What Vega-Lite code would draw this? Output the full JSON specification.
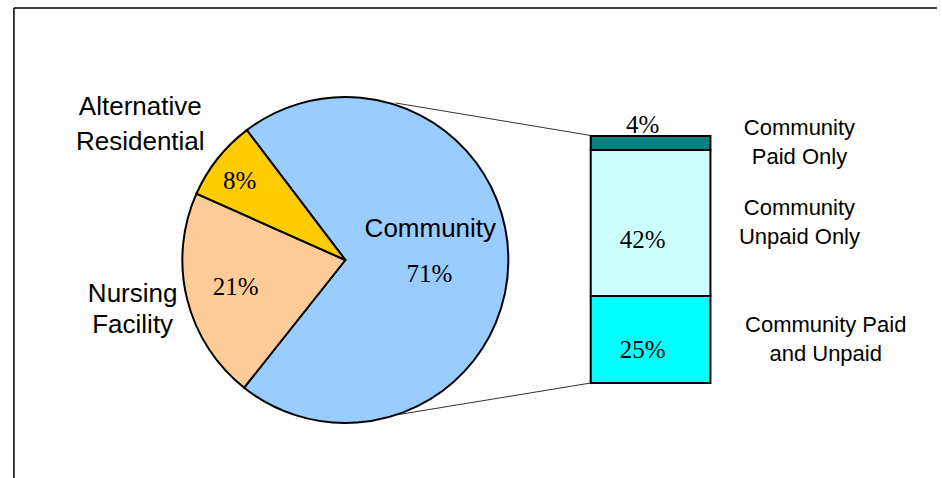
{
  "$schema": "https://vega.github.io/schema/vega-lite/v6.json",
  "width": 942,
  "height": 478,
  "autosize": {"type": "none"},
  "padding": 0,
  "background": "white",
  "config": {"view": {"stroke": null}},
  "datasets": {
    "pie": [
      {"category": "Community", "value": 71, "label": "71%", "name": "Community"},
      {"category": "Nursing Facility", "value": 21, "label": "21%", "name": "Nursing\nFacility"},
      {"category": "Alternative Residential", "value": 8, "label": "8%", "name": "Alternative\nResidential"}
    ],
    "bar": [
      {"segment": "Community Paid and Unpaid", "value": 25, "label": "25%", "rank": 1, "name": "Community Paid\nand Unpaid"},
      {"segment": "Community Unpaid Only", "value": 42, "label": "42%", "rank": 2, "name": "Community\nUnpaid Only"},
      {"segment": "Community Paid Only", "value": 4, "label": "4%", "rank": 3, "name": "Community\nPaid Only"}
    ],
    "frame": [{"part": "frame"}]
  },
  "resolve": {"scale": {"y": "independent"}},
  "layer": [
    {
      "data": {"name": "frame"},
      "mark": {"type": "rule", "color": "black", "strokeWidth": 1.5},
      "encoding": {
        "x": {"datum": 9, "type": "quantitative", "scale": {"domain": [0, 942], "nice": false, "zero": false}, "axis": null},
        "x2": {"datum": 942},
        "y": {"datum": 8, "type": "quantitative", "scale": {"domain": [0, 478], "nice": false, "zero": false, "reverse": true}, "axis": null}
      }
    },
    {
      "data": {"name": "frame"},
      "mark": {"type": "rule", "color": "black", "strokeWidth": 1.5},
      "encoding": {
        "x": {"datum": 9, "type": "quantitative", "scale": {"domain": [0, 942], "nice": false, "zero": false}, "axis": null},
        "y": {"datum": 8, "type": "quantitative", "scale": {"domain": [0, 478], "nice": false, "zero": false, "reverse": true}, "axis": null},
        "y2": {"datum": 478}
      }
    },
    {
      "data": {"name": "frame"},
      "mark": {"type": "rule", "color": "#333333", "strokeWidth": 1},
      "encoding": {
        "x": {"datum": 395, "type": "quantitative", "scale": {"domain": [0, 942], "nice": false, "zero": false}, "axis": null},
        "x2": {"datum": 592},
        "y": {"datum": 103, "type": "quantitative", "scale": {"domain": [0, 478], "nice": false, "zero": false, "reverse": true}, "axis": null},
        "y2": {"datum": 135.5}
      }
    },
    {
      "data": {"name": "frame"},
      "mark": {"type": "rule", "color": "#333333", "strokeWidth": 1},
      "encoding": {
        "x": {"datum": 395, "type": "quantitative", "scale": {"domain": [0, 942], "nice": false, "zero": false}, "axis": null},
        "x2": {"datum": 592},
        "y": {"datum": 415, "type": "quantitative", "scale": {"domain": [0, 478], "nice": false, "zero": false, "reverse": true}, "axis": null},
        "y2": {"datum": 383}
      }
    },
    {
      "data": {"name": "pie"},
      "mark": {"type": "arc", "outerRadius": 163, "stroke": "black", "strokeWidth": 2},
      "encoding": {
        "x": {"datum": 344, "type": "quantitative", "scale": {"domain": [0, 942], "nice": false, "zero": false}, "axis": null},
        "y": {"datum": 260, "type": "quantitative", "scale": {"domain": [0, 478], "nice": false, "zero": false, "reverse": true}, "axis": null},
        "theta": {"field": "value", "type": "quantitative", "stack": true, "scale": {"domain": [0, 100], "range": [-1.1519, 5.1313]}},
        "color": {"field": "category", "type": "nominal", "legend": null,
          "scale": {"domain": ["Community", "Nursing Facility", "Alternative Residential", "Community Paid and Unpaid", "Community Unpaid Only", "Community Paid Only"],
                    "range": ["#99CCFF", "#FFCC99", "#FFCC00", "#00FFFF", "#CCFFFF", "#008080"]}},
        "order": {"field": "category", "sort": "ascending"}
      }
    },
    {
      "data": {"name": "pie"},
      "mark": {"type": "text", "radius": 135, "dy": 5, "font": "Liberation Serif", "fontSize": 25, "color": "black", "baseline": "middle", "align": "center"},
      "encoding": {
        "x": {"datum": 344, "type": "quantitative", "scale": {"domain": [0, 942], "nice": false, "zero": false}, "axis": null},
        "y": {"datum": 260, "type": "quantitative", "scale": {"domain": [0, 478], "nice": false, "zero": false, "reverse": true}, "axis": null},
        "theta": {"field": "value", "type": "quantitative", "stack": true, "scale": {"domain": [0, 100], "range": [-1.1519, 5.1313]}},
        "detail": {"field": "category", "type": "nominal"},
        "order": {"field": "category", "sort": "ascending"},
        "text": {"condition": {"test": "datum.category === 'Alternative Residential'", "field": "label", "type": "nominal"}, "value": ""}
      }
    },
    {
      "data": {"name": "pie"},
      "mark": {"type": "text", "radius": 113, "font": "Liberation Serif", "fontSize": 25, "color": "black", "baseline": "middle", "align": "center"},
      "encoding": {
        "x": {"datum": 344, "type": "quantitative", "scale": {"domain": [0, 942], "nice": false, "zero": false}, "axis": null},
        "y": {"datum": 260, "type": "quantitative", "scale": {"domain": [0, 478], "nice": false, "zero": false, "reverse": true}, "axis": null},
        "theta": {"field": "value", "type": "quantitative", "stack": true, "scale": {"domain": [0, 100], "range": [-1.1519, 5.1313]}},
        "detail": {"field": "category", "type": "nominal"},
        "order": {"field": "category", "sort": "ascending"},
        "text": {"condition": {"test": "datum.category === 'Nursing Facility'", "field": "label", "type": "nominal"}, "value": ""}
      }
    },
    {
      "data": {"name": "pie"},
      "mark": {"type": "text", "radius": 84, "dy": 13, "font": "Liberation Serif", "fontSize": 25, "color": "black", "baseline": "middle", "align": "center"},
      "encoding": {
        "x": {"datum": 344, "type": "quantitative", "scale": {"domain": [0, 942], "nice": false, "zero": false}, "axis": null},
        "y": {"datum": 260, "type": "quantitative", "scale": {"domain": [0, 478], "nice": false, "zero": false, "reverse": true}, "axis": null},
        "theta": {"field": "value", "type": "quantitative", "stack": true, "scale": {"domain": [0, 100], "range": [-1.1519, 5.1313]}},
        "detail": {"field": "category", "type": "nominal"},
        "order": {"field": "category", "sort": "ascending"},
        "text": {"condition": {"test": "datum.category === 'Community'", "field": "label", "type": "nominal"}, "value": ""}
      }
    },
    {
      "data": {"name": "pie"},
      "mark": {"type": "text", "radius": 84, "dx": 1, "dy": -32, "font": "Liberation Sans", "fontSize": 26, "color": "black", "baseline": "middle", "align": "center"},
      "encoding": {
        "x": {"datum": 344, "type": "quantitative", "scale": {"domain": [0, 942], "nice": false, "zero": false}, "axis": null},
        "y": {"datum": 260, "type": "quantitative", "scale": {"domain": [0, 478], "nice": false, "zero": false, "reverse": true}, "axis": null},
        "theta": {"field": "value", "type": "quantitative", "stack": true, "scale": {"domain": [0, 100], "range": [-1.1519, 5.1313]}},
        "detail": {"field": "category", "type": "nominal"},
        "order": {"field": "category", "sort": "ascending"},
        "text": {"condition": {"test": "datum.category === 'Community'", "field": "name", "type": "nominal"}, "value": ""}
      }
    },
    {
      "data": {"name": "pie"},
      "mark": {"type": "text", "radius": 240, "dx": -17, "dy": -3.5, "font": "Liberation Sans", "fontSize": 26, "lineHeight": 35, "lineBreak": "\n", "color": "black", "baseline": "middle", "align": "center"},
      "encoding": {
        "x": {"datum": 344, "type": "quantitative", "scale": {"domain": [0, 942], "nice": false, "zero": false}, "axis": null},
        "y": {"datum": 260, "type": "quantitative", "scale": {"domain": [0, 478], "nice": false, "zero": false, "reverse": true}, "axis": null},
        "theta": {"field": "value", "type": "quantitative", "stack": true, "scale": {"domain": [0, 100], "range": [-1.1519, 5.1313]}},
        "detail": {"field": "category", "type": "nominal"},
        "order": {"field": "category", "sort": "ascending"},
        "text": {"condition": {"test": "datum.category === 'Alternative Residential'", "field": "name", "type": "nominal"}, "value": ""}
      }
    },
    {
      "data": {"name": "pie"},
      "mark": {"type": "text", "radius": 219, "dy": -18.5, "font": "Liberation Sans", "fontSize": 26, "lineHeight": 31, "lineBreak": "\n", "color": "black", "baseline": "middle", "align": "center"},
      "encoding": {
        "x": {"datum": 344, "type": "quantitative", "scale": {"domain": [0, 942], "nice": false, "zero": false}, "axis": null},
        "y": {"datum": 260, "type": "quantitative", "scale": {"domain": [0, 478], "nice": false, "zero": false, "reverse": true}, "axis": null},
        "theta": {"field": "value", "type": "quantitative", "stack": true, "scale": {"domain": [0, 100], "range": [-1.1519, 5.1313]}},
        "detail": {"field": "category", "type": "nominal"},
        "order": {"field": "category", "sort": "ascending"},
        "text": {"condition": {"test": "datum.category === 'Nursing Facility'", "field": "name", "type": "nominal"}, "value": ""}
      }
    },
    {
      "data": {"name": "bar"},
      "mark": {"type": "bar", "orient": "vertical", "stroke": "black", "strokeWidth": 2},
      "encoding": {
        "x": {"datum": 592, "type": "quantitative", "scale": {"domain": [0, 942], "nice": false, "zero": false}, "axis": null},
        "x2": {"datum": 713},
        "y": {"field": "value", "type": "quantitative", "stack": "zero", "scale": {"domain": [-27.31, 110.09], "nice": false, "zero": false}, "axis": null},
        "color": {"field": "segment", "type": "nominal", "legend": null,
          "scale": {"domain": ["Community", "Nursing Facility", "Alternative Residential", "Community Paid and Unpaid", "Community Unpaid Only", "Community Paid Only"],
                    "range": ["#99CCFF", "#FFCC99", "#FFCC00", "#00FFFF", "#CCFFFF", "#008080"]}},
        "order": {"field": "rank", "sort": "ascending"}
      }
    },
    {
      "data": {"name": "bar"},
      "mark": {"type": "text", "font": "Liberation Serif", "fontSize": 25, "color": "black", "baseline": "middle", "align": "center"},
      "encoding": {
        "x": {"datum": 644.5, "type": "quantitative", "scale": {"domain": [0, 942], "nice": false, "zero": false}, "axis": null},
        "y": {"field": "value", "type": "quantitative", "stack": "zero", "bandPosition": 0.38, "scale": {"domain": [-27.31, 110.09], "nice": false, "zero": false}, "axis": null},
        "detail": {"field": "segment", "type": "nominal"},
        "order": {"field": "rank", "sort": "ascending"},
        "text": {"condition": {"test": "datum.rank < 3", "field": "label", "type": "nominal"}, "value": ""}
      }
    },
    {
      "data": {"name": "bar"},
      "mark": {"type": "text", "dy": -10.5, "font": "Liberation Serif", "fontSize": 25, "color": "black", "baseline": "middle", "align": "center"},
      "encoding": {
        "x": {"datum": 644.5, "type": "quantitative", "scale": {"domain": [0, 942], "nice": false, "zero": false}, "axis": null},
        "y": {"field": "value", "type": "quantitative", "stack": "zero", "bandPosition": 1, "scale": {"domain": [-27.31, 110.09], "nice": false, "zero": false}, "axis": null},
        "detail": {"field": "segment", "type": "nominal"},
        "order": {"field": "rank", "sort": "ascending"},
        "text": {"condition": {"test": "datum.rank === 3", "field": "label", "type": "nominal"}, "value": ""}
      }
    },
    {
      "data": {"name": "bar"},
      "mark": {"type": "text", "dy": -14.5, "font": "Liberation Sans", "fontSize": 22, "lineHeight": 29, "lineBreak": "\n", "color": "black", "baseline": "middle", "align": "center"},
      "encoding": {
        "x": {"datum": 803, "type": "quantitative", "scale": {"domain": [0, 942], "nice": false, "zero": false}, "axis": null},
        "y": {"field": "value", "type": "quantitative", "stack": "zero", "bandPosition": 0.5, "scale": {"domain": [-27.31, 110.09], "nice": false, "zero": false}, "axis": null},
        "detail": {"field": "segment", "type": "nominal"},
        "order": {"field": "rank", "sort": "ascending"},
        "text": {"condition": {"test": "datum.rank > 1", "field": "name", "type": "nominal"}, "value": ""}
      }
    },
    {
      "data": {"name": "bar"},
      "mark": {"type": "text", "dy": -14.5, "font": "Liberation Sans", "fontSize": 22, "lineHeight": 29, "lineBreak": "\n", "color": "black", "baseline": "middle", "align": "center"},
      "encoding": {
        "x": {"datum": 829.5, "type": "quantitative", "scale": {"domain": [0, 942], "nice": false, "zero": false}, "axis": null},
        "y": {"field": "value", "type": "quantitative", "stack": "zero", "bandPosition": 0.5, "scale": {"domain": [-27.31, 110.09], "nice": false, "zero": false}, "axis": null},
        "detail": {"field": "segment", "type": "nominal"},
        "order": {"field": "rank", "sort": "ascending"},
        "text": {"condition": {"test": "datum.rank === 1", "field": "name", "type": "nominal"}, "value": ""}
      }
    }
  ]
}
